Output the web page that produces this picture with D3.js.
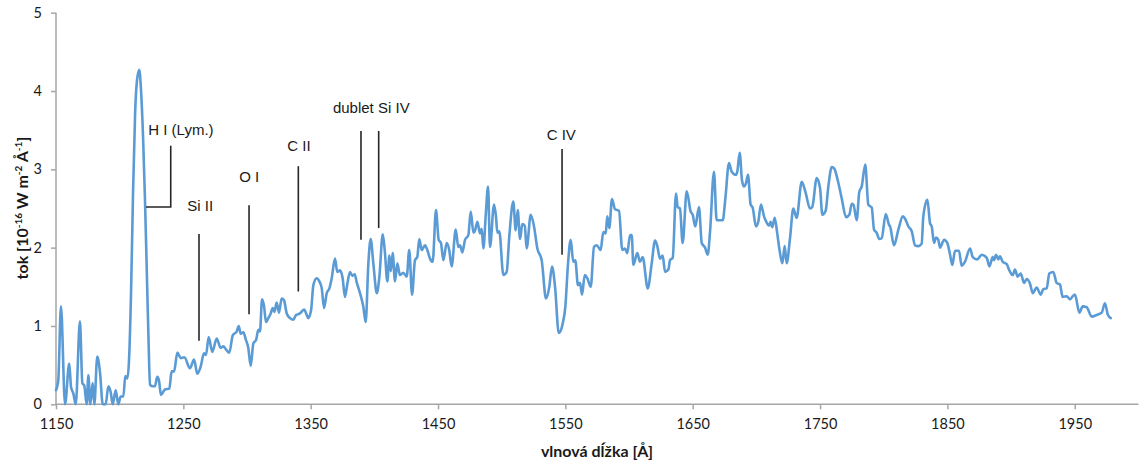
<!DOCTYPE html>
<html>
<head>
<meta charset="utf-8">
<script src="https://cdn.jsdelivr.net/npm/d3@7/dist/d3.min.js"></script>
<style>
  html, body { margin: 0; padding: 0; background: #fff; }
  svg { display: block; }
</style>
</head>
<body>
<svg id="chart" width="1141" height="464"></svg>
<script>
// UV spectrum: wavelength [Å] and flux [1e-16 W m^-2 Å^-1]
const wavelength = [
  1150.0,1151.8,1153.9,1157.1,1160.4,1161.8,1163.6,1165.5,1168.8,1170.7,1172.2,1174.1,1175.4,1176.9,1178.8,1180.1,
  1182.4,1184.6,1186.7,1189.0,1191.1,1193.0,1194.5,1196.9,1198.9,1200.8,1202.9,1204.4,1206.0,1207.3,1208.9,1210.5,
  1212.1,1213.7,1215.4,1216.8,1218.4,1219.9,1221.3,1222.7,1223.8,1226.2,1227.7,1229.5,1230.9,1232.4,1235.6,1239.0,
  1240.8,1242.7,1245.3,1247.9,1250.8,1255.2,1258.4,1261.0,1263.6,1266.2,1267.8,1269.9,1272.7,1276.2,1279.3,1281.4,
  1283.5,1286.1,1288.8,1291.9,1293.5,1295.0,1297.1,1299.0,1301.0,1302.9,1305.0,1307.1,1308.9,1310.2,1311.8,1313.4,
  1314.9,1316.7,1318.6,1320.2,1321.5,1323.3,1325.1,1327.2,1329.0,1331.2,1333.8,1336.4,1338.5,1341.6,1344.8,1346.9,
  1348.1,1350.3,1352.1,1354.7,1356.8,1358.7,1360.5,1362.6,1364.7,1366.5,1369.1,1370.9,1373.0,1375.1,1376.9,1378.8,
  1380.9,1382.7,1384.6,1386.1,1388.7,1391.3,1393.2,1395.3,1397.1,1399.2,1401.9,1403.9,1406.6,1408.2,1410.2,1411.8,
  1412.9,1414.4,1416.2,1418.0,1420.1,1422.7,1425.4,1427.4,1429.6,1431.9,1433.7,1435.3,1437.2,1439.8,1441.6,1443.7,
  1445.8,1448.4,1450.5,1452.3,1454.2,1456.8,1458.8,1460.7,1463.9,1465.9,1467.3,1469.1,1471.2,1473.8,1475.7,1477.8,
  1479.1,1480.9,1483.0,1484.3,1485.6,1487.5,1489.3,1490.8,1494.0,1495.5,1496.6,1498.1,1501.3,1503.9,1506.0,1509.1,
  1511.0,1512.6,1514.4,1516.2,1518.1,1519.6,1522.8,1525.4,1528.0,1531.4,1534.8,1537.4,1539.5,1541.9,1544.8,1547.9,
  1550.0,1552.1,1554.2,1556.2,1557.8,1559.9,1561.5,1563.1,1565.2,1567.2,1569.9,1572.5,1574.6,1577.7,1579.8,1581.7,
  1582.9,1584.5,1586.6,1589.0,1592.1,1594.7,1596.8,1598.6,1600.8,1602.1,1603.4,1606.5,1608.6,1610.7,1614.7,1617.8,
  1620.4,1622.2,1624.3,1626.4,1628.3,1630.9,1632.2,1634.3,1636.9,1638.2,1640.0,1642.1,1645.3,1648.4,1650.0,1652.0,
  1654.9,1657.1,1659.7,1661.8,1663.6,1666.7,1668.8,1670.9,1673.6,1675.6,1678.5,1680.6,1684.0,1685.0,1686.9,1688.7,
  1690.3,1691.8,1693.4,1695.5,1697.1,1699.7,1701.5,1703.6,1706.0,1708.1,1709.9,1711.2,1712.5,1714.4,1716.4,1718.0,
  1720.4,1722.2,1723.8,1726.4,1729.0,1731.6,1735.6,1738.7,1742.1,1743.9,1747.4,1750.0,1751.8,1754.4,1756.5,1759.2,
  1761.2,1763.9,1767.0,1770.4,1773.0,1774.9,1776.2,1778.8,1780.8,1782.7,1785.5,1787.9,1790.6,1792.4,1794.5,1796.5,
  1798.4,1801.6,1804.2,1805.0,1808.1,1811.5,1815.0,1816.8,1819.4,1822.0,1824.6,1827.0,1829.8,1831.1,1834.3,1836.4,
  1837.7,1839.5,1841.1,1842.9,1844.2,1847.4,1849.9,1852.1,1853.9,1856.0,1859.1,1861.2,1863.8,1867.8,1869.9,1873.5,
  1877.0,1880.9,1883.0,1885.6,1886.6,1888.2,1890.0,1891.3,1893.4,1896.6,1898.4,1901.3,1903.1,1905.2,1907.6,1910.2,
  1912.3,1914.9,1917.0,1920.1,1923.3,1925.3,1928.0,1930.0,1933.2,1935.8,1938.4,1940.5,1943.7,1946.3,1948.4,1950.2,
  1953.6,1956.3,1959.4,1963.3,1967.2,1971.2,1973.7,1976.1,1978.3
];
const flux = [
  0.18,0.31,1.25,0.00,0.52,0.22,0.14,0.00,1.06,0.27,0.24,0.00,0.37,0.00,0.27,0.00,
  0.61,0.40,0.00,0.00,0.23,0.15,0.00,0.18,0.00,0.10,0.10,0.36,0.33,0.55,1.40,2.70,
  3.70,4.15,4.27,4.00,3.40,2.60,1.70,0.80,0.25,0.23,0.23,0.35,0.30,0.12,0.19,0.20,
  0.42,0.42,0.66,0.59,0.60,0.46,0.57,0.39,0.48,0.65,0.63,0.86,0.67,0.84,0.72,0.74,
  0.70,0.66,0.88,0.93,1.00,0.90,0.92,0.83,0.72,0.49,0.78,0.82,0.95,0.93,1.34,1.25,
  1.05,1.10,1.16,1.23,1.18,1.30,1.17,1.35,1.33,1.16,1.10,1.08,1.14,1.16,1.21,1.14,
  1.10,1.20,1.52,1.61,1.57,1.48,1.23,1.42,1.48,1.61,1.86,1.69,1.71,1.61,1.37,1.54,
  1.69,1.64,1.66,1.56,1.42,1.25,1.05,1.80,2.11,1.80,1.42,1.62,2.17,1.96,1.57,1.90,
  1.70,1.93,1.57,1.80,1.65,1.68,1.63,1.97,1.40,1.84,1.88,2.11,1.97,2.03,1.97,1.86,
  1.82,2.48,2.10,2.06,1.84,2.06,1.97,1.76,2.23,2.01,2.03,1.94,2.10,2.16,2.46,2.19,
  2.22,2.33,2.18,2.24,1.99,2.42,2.78,2.01,2.55,2.40,2.19,2.21,1.65,1.69,2.15,2.59,
  2.22,2.48,2.11,2.30,2.28,1.99,2.42,2.27,1.99,1.84,1.35,1.50,1.76,1.50,0.91,1.03,
  1.25,1.80,2.10,1.82,1.84,1.52,1.55,1.40,1.65,1.61,1.50,2.01,2.03,1.97,2.20,2.18,
  2.40,2.25,2.62,2.49,2.47,1.97,1.99,1.93,2.16,2.16,1.78,1.93,1.82,1.88,1.48,1.80,
  2.09,2.02,1.86,1.90,1.69,1.72,1.84,1.87,2.69,2.52,2.50,2.06,2.72,2.46,2.42,2.27,
  2.52,2.06,2.00,1.91,2.20,2.97,2.35,2.35,2.35,2.62,3.08,2.97,2.93,2.97,3.21,2.86,
  2.78,2.82,2.93,2.55,2.51,2.27,2.33,2.55,2.40,2.32,2.28,2.33,2.26,2.38,2.18,1.99,
  1.80,2.02,1.80,2.12,2.50,2.38,2.84,2.70,2.50,2.52,2.89,2.76,2.42,2.47,2.78,3.03,
  3.01,2.86,2.63,2.39,2.42,2.56,2.55,2.35,2.71,2.78,3.06,2.55,2.51,2.23,2.19,2.11,
  2.12,2.43,2.29,2.27,2.03,2.23,2.40,2.37,2.27,2.21,2.03,2.02,2.05,2.40,2.61,2.31,
  2.27,2.06,2.13,2.10,2.00,2.10,2.06,1.91,1.78,1.96,1.96,1.77,1.82,1.99,1.88,1.85,
  1.91,1.87,1.76,1.88,1.84,1.91,1.85,1.89,1.82,1.79,1.72,1.65,1.72,1.63,1.67,1.55,
  1.60,1.54,1.42,1.49,1.40,1.47,1.48,1.67,1.69,1.55,1.53,1.37,1.38,1.34,1.38,1.40,
  1.17,1.25,1.24,1.12,1.14,1.17,1.29,1.14,1.10
];

// axis ticks
const xTicks = [1150, 1250, 1350, 1450, 1550, 1650, 1750, 1850, 1950];
const yTicks = [0, 1, 2, 3, 4, 5];

// identified spectral lines: marker position and label
const markerWavelength = [1262.3, 1301.6, 1340.3, 1389.5, 1403.4, 1547.4];
const markerTop        = [2.175, 2.54, 3.04, 3.49, 3.49, 3.26];
const markerBottom     = [0.81, 1.15, 1.44, 2.10, 2.25, 1.91];

const labelText       = ["H I (Lym.)", "Si II", "O I", "C II", "dublet Si IV", "C IV"];
const labelWavelength = [1248.1, 1263.3, 1301.7, 1340.8, 1397.6, 1546.8];
const labelFlux       = [3.44, 2.47, 2.84, 3.23, 3.72, 3.375];

// bracket pointing at the Lyman-alpha peak: [wavelength, flux] corners
const lymanBracket = [[1240.1, 3.30], [1240.1, 2.52], [1220.7, 2.52]];

const svg = d3.select("#chart");
const plotLeft = 56, plotRight = 1138.4, plotTop = 12.7, plotBottom = 404.3;

const x = d3.scaleLinear().domain([1150, 2000]).range([plotLeft, plotRight]);
const y = d3.scaleLinear().domain([0, 5]).range([plotBottom, plotTop]);

const axisColor = "#a6a6a6";
const tickFont = "Lato, 'Open Sans', sans-serif";

// y axis
const gy = svg.append("g")
  .attr("transform", `translate(${plotLeft},0)`)
  .call(d3.axisLeft(y).tickValues(yTicks).tickSize(5).tickPadding(9).tickFormat(d3.format("d")));
// x axis
const gx = svg.append("g")
  .attr("transform", `translate(0,${plotBottom})`)
  .call(d3.axisBottom(x).tickValues(xTicks).tickSize(5).tickPadding(9).tickFormat(d3.format("d")));

[gx, gy].forEach(g => {
  g.select(".domain").attr("stroke", axisColor).attr("stroke-width", 1.5);
  g.selectAll(".tick line").attr("stroke", axisColor).attr("stroke-width", 1.5);
  g.selectAll(".tick text")
    .attr("fill", "#1a1a1a")
    .style("font-family", tickFont)
    .style("font-size", "14.5px");
});
// plain axis lines without end caps
gx.select(".domain").attr("d", `M${plotLeft},0H${plotRight}`);
gy.select(".domain").attr("d", `M0,${plotBottom}V${plotTop}`);

// spectrum line
const line = d3.line()
  .x((d, i) => x(wavelength[i]))
  .y(d => y(d))
  .curve(d3.curveMonotoneX);

svg.append("path")
  .datum(flux)
  .attr("fill", "none")
  .attr("stroke", "#5b9bd5")
  .attr("stroke-width", 2.6)
  .attr("stroke-linejoin", "round")
  .attr("stroke-linecap", "round")
  .attr("d", line);

// line markers
const markColor = "#262626";
svg.append("g").selectAll("line")
  .data(markerWavelength)
  .join("line")
  .attr("x1", d => x(d)).attr("x2", d => x(d))
  .attr("y1", (d, i) => y(markerTop[i]))
  .attr("y2", (d, i) => y(markerBottom[i]))
  .attr("stroke", markColor)
  .attr("stroke-width", 1.6);

svg.append("path")
  .attr("d", d3.line().x(d => x(d[0])).y(d => y(d[1]))(lymanBracket))
  .attr("fill", "none")
  .attr("stroke", markColor)
  .attr("stroke-width", 1.6);

svg.append("g").selectAll("text")
  .data(labelText)
  .join("text")
  .attr("x", (d, i) => x(labelWavelength[i]))
  .attr("y", (d, i) => y(labelFlux[i]))
  .attr("text-anchor", "middle")
  .attr("fill", "#1a1a1a")
  .style("font-family", "'Liberation Sans', Arial, sans-serif")
  .style("font-size", "15px")
  .text(d => d);

// axis titles
svg.append("text")
  .attr("x", 597)
  .attr("y", 457)
  .attr("text-anchor", "middle")
  .attr("fill", "#1a1a1a")
  .style("font-family", tickFont)
  .style("font-size", "16px")
  .style("font-weight", "bold")
  .text("vlnová dĺžka [Å]");

const yTitle = svg.append("text")
  .attr("transform", "translate(28,208) rotate(-90)")
  .attr("text-anchor", "middle")
  .attr("fill", "#1a1a1a")
  .style("font-family", tickFont)
  .style("font-size", "16px")
  .style("font-weight", "bold");
const yParts = [
  ["tok [10", false], ["-16", true], [" W m", false], ["-2", true], [" Å", false], ["-1", true], ["]", false]
];
yParts.forEach(([t, sup]) => {
  const ts = yTitle.append("tspan").text(t);
  if (sup) ts.attr("baseline-shift", "super").style("font-size", "10px");
});
</script>
</body>
</html>
